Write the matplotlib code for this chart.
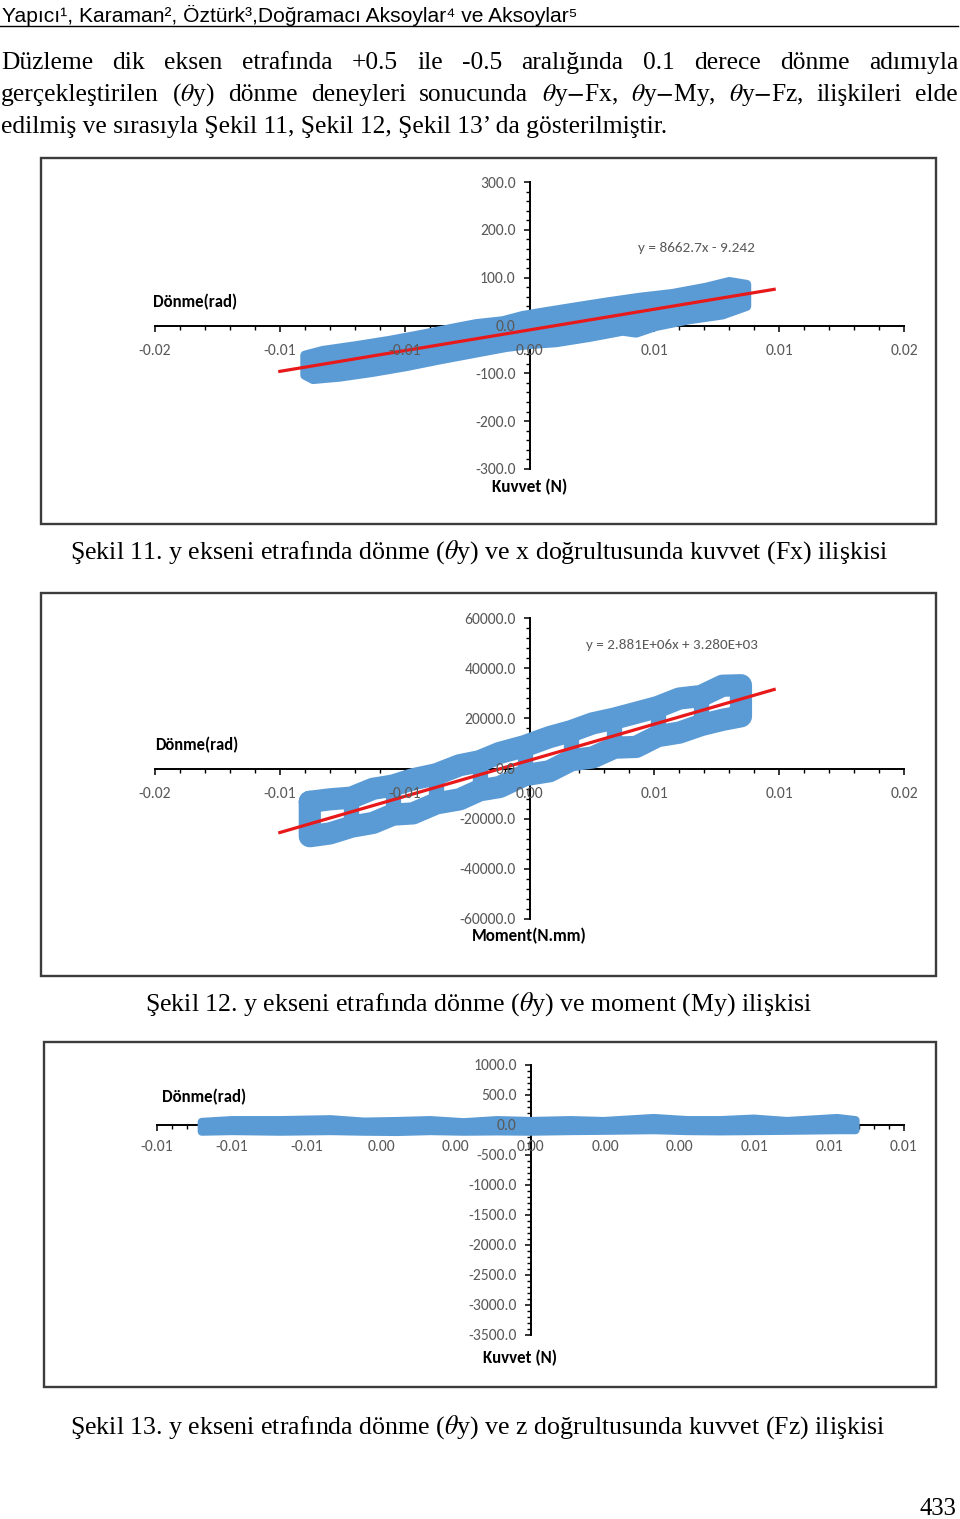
import matplotlib
matplotlib.use('Agg')
import matplotlib.pyplot as plt
from matplotlib import font_manager
from matplotlib.patches import Rectangle
from matplotlib.ticker import MultipleLocator

# ------------------------------------------------------------------ data
# Şekil 11 : rotation (rad) vs force Fx (N)
c1_xticks = [-0.015, -0.01, -0.005, 0.0, 0.005, 0.01, 0.015]
c1_xlabels = ['-0.02', '-0.01', '-0.01', '0.00', '0.01', '0.01', '0.02']
c1_yticks = [-300, -200, -100, 0, 100, 200, 300]
c1_ylabels = ['-300.0', '-200.0', '-100.0', '0.0', '100.0', '200.0', '300.0']
c1_upper_x = [-0.0090, -0.00827, -0.00693, -0.0056, -0.00427, -0.00293, -0.00213, -0.00107,
              -0.00027, 0.00053, 0.00173, 0.00307, 0.0044, 0.00573, 0.00707, 0.0080, 0.0087]
c1_upper_y = [-62, -52, -42, -31, -18, -4, 4, 10, 21, 28, 38, 49, 59, 67, 80, 92, 86]
c1_lower_x = [-0.0090, -0.00867, -0.0076, -0.00627, -0.00493, -0.0036, -0.00227, -0.00093,
              0.0, 0.00107, 0.0024, 0.00373, 0.00427, 0.00507, 0.0064, 0.00773, 0.0087]
c1_lower_y = [-104, -113, -108, -98, -86, -72, -59, -46, -40, -36, -25, -12, -16, -2, 12, 22, 40]
c1_slope, c1_icpt = 8662.7, -9.242
c1_trend_x = [-0.0100, 0.0098]
c1_eq = 'y = 8662.7x - 9.242'

# Şekil 12 : rotation (rad) vs moment My (N.mm)  (upper / lower branch of the loop)
c2_xticks = c1_xticks
c2_xlabels = c1_xlabels
c2_yticks = [-60000, -40000, -20000, 0, 20000, 40000, 60000]
c2_ylabels = ['-60000.0', '-40000.0', '-20000.0', '0.0', '20000.0', '40000.0', '60000.0']
c2_x = [-0.0088, -0.0080, -0.00713, -0.00627, -0.00547, -0.00467, -0.00373, -0.0028, -0.0020,
        -0.0012, -0.0002, 0.0008, 0.00167, 0.00253, 0.0034, 0.00427, 0.00513, 0.0060, 0.00687,
        0.00773, 0.00847]
c2_upper = [-13300, -12300, -11600, -8100, -6800, -4300, -2300, 1300, 2900, 6200, 8900, 12500,
            14900, 18000, 19900, 22200, 24500, 27900, 28900, 33000, 33200]
c2_lower = [-27000, -25900, -23200, -21700, -18400, -17900, -13900, -12300, -8700, -7400, -2700,
            -1100, 3300, 4400, 8300, 8600, 12900, 14300, 17300, 19400, 20800]
c2_bridge_idx = [2, 4, 6, 8, 10, 12, 14, 16, 18]   # points where both branches touch
c2_slope, c2_icpt = 2.881e6, 3.280e3
c2_trend_x = [-0.0100, 0.0098]
c2_eq = 'y = 2.881E+06x + 3.280E+03'

# Şekil 13 : rotation (rad) vs force Fz (N)
c3_xticks = [-0.01, -0.008, -0.006, -0.004, -0.002, 0.0, 0.002, 0.004, 0.006, 0.008, 0.01]
c3_xlabels = ['-0.01', '-0.01', '-0.01', '0.00', '0.00', '0.00', '0.00', '0.00', '0.01', '0.01', '0.01']
c3_yticks = [-3500, -3000, -2500, -2000, -1500, -1000, -500, 0, 500, 1000]
c3_ylabels = ['-3500.0', '-3000.0', '-2500.0', '-2000.0', '-1500.0', '-1000.0', '-500.0', '0.0',
              '500.0', '1000.0']
c3_x = [-0.0088, -0.0080, -0.0067, -0.00535, -0.00446, -0.00357, -0.00268, -0.00179, -0.00089,
        0.0, 0.00107, 0.00196, 0.0033, 0.0042, 0.00509, 0.00598, 0.00687, 0.00821, 0.0087]
c3_upper = [50, 80, 80, 95, 55, 65, 80, 45, 80, 65, 80, 65, 115, 80, 80, 105, 65, 115, 80]
c3_lower = [-110, -100, -110, -100, -110, -115, -100, -110, -105, -110, -100, -95, -85, -100,
            -105, -100, -95, -85, -85]

# ------------------------------------------------------------------ setup
W, H = 960, 1519
fig = plt.figure(figsize=(W / 100, H / 100), dpi=100)
fig.patch.set_facecolor('white')
renderer = fig.canvas.get_renderer()

names = {f.name for f in font_manager.fontManager.ttflist}


def pick(*cands):
    for n in cands:
        if n in names:
            return n
    return 'DejaVu Sans'


CHART_FONT = pick('Carlito', 'Liberation Sans Narrow', 'Roboto', 'Open Sans')
SERIF = pick('Liberation Serif', 'DejaVu Serif')
HEAD = pick('Liberation Sans Narrow', 'Liberation Sans', 'Roboto')

BLUE = '#5B9BD5'
RED = '#E8191A'
GRAY = '#595959'


def fx(x):
    return x / W


def fy(y):
    return 1 - y / H


def fit(s, x0, x1, y, va='baseline', **kw):
    t = fig.text(fx(x0), fy(y), s, ha='left', va=va, **kw)
    w = t.get_window_extent(renderer).width
    t.set_fontsize(t.get_fontsize() * (x1 - x0) / w)
    return t


def justify(words, x0, x1, y, size, **kw):
    ts = [fig.text(0, fy(y), w, ha='left', va='baseline', fontsize=size, **kw) for w in words]
    ws = [t.get_window_extent(renderer).width for t in ts]
    gap = (x1 - x0 - sum(ws)) / (len(ws) - 1)
    x = x0
    for t, w in zip(ts, ws):
        t.set_x(fx(x))
        x += w + gap


def box(l, r, t, b):
    fig.patches.append(Rectangle((fx(l), fy(b)), (r - l) / W, (b - t) / H,
                                 transform=fig.transFigure, fill=False,
                                 ec='#3c3c3c', lw=1.7, zorder=0))


tmp = fig.text(0, 0, '300.0', fontsize=10, family=CHART_FONT)
TICK_FS = 10 * 36 / tmp.get_window_extent(renderer).width
tmp.remove()

TICK_LEN = 4.0


def make_axes(l, r, t, b, xlim, ylim, xticks, xlabels, yticks, ylabels, xminor, yminor, xpad):
    rect = [fx(l), fy(b), (r - l) / W, (b - t) / H]
    # base layer: axis lines and tick marks (drawn below the data)
    ax = fig.add_axes(rect, zorder=1)
    # label layer: tick labels (drawn above the data)
    axl = fig.add_axes(rect, zorder=3)
    for a in (ax, axl):
        a.patch.set_visible(False)
        a.set_xlim(*xlim)
        a.set_ylim(*ylim)
        for s in ('top', 'right'):
            a.spines[s].set_visible(False)
        for s in ('left', 'bottom'):
            a.spines[s].set_position(('data', 0))
        a.set_xticks(xticks)
        a.set_yticks(yticks)
    for s in ('left', 'bottom'):
        ax.spines[s].set_linewidth(1.4)
        ax.spines[s].set_color('black')
        ax.spines[s].set_zorder(1)
        axl.spines[s].set_visible(False)
    ax.set_axisbelow(True)
    ax.xaxis.set_minor_locator(MultipleLocator(xminor))
    ax.yaxis.set_minor_locator(MultipleLocator(yminor))
    ax.tick_params(which='major', direction='out', length=TICK_LEN, width=1.1, color='black',
                   labelbottom=False, labelleft=False)
    ax.tick_params(which='minor', direction='out', length=2.6, width=1.0, color='black')
    axl.set_xticklabels(xlabels)
    axl.set_yticklabels(ylabels)
    axl.tick_params(which='both', length=0, labelcolor=GRAY, labelsize=TICK_FS,
                    labelfontfamily=CHART_FONT)
    axl.tick_params(axis='x', pad=TICK_LEN + xpad)
    axl.tick_params(axis='y', pad=TICK_LEN + 6)
    return ax


# ------------------------------------------------------------------ page text
fit('Yapıcı¹, Karaman², Öztürk³,Doğramacı Aksoylar⁴ ve Aksoylar⁵', 2, 580, 22,
    family=[HEAD, 'DejaVu Sans'], fontsize=14)
fig.add_artist(plt.Line2D([fx(0), fx(958)], [fy(25.5), fy(25.5)], transform=fig.transFigure,
                          color='black', lw=1.0))

t3 = fit('edilmiş ve sırasıyla Şekil 11, Şekil 12, Şekil 13’ da gösterilmiştir.', 1, 665, 133,
         family=SERIF, fontsize=16)
BODY_FS = t3.get_fontsize()
justify(['Düzleme', 'dik', 'eksen', 'etrafında', '+0.5', 'ile', '-0.5', 'aralığında', '0.1',
         'derece', 'dönme', 'adımıyla'], 1, 958, 69, BODY_FS, family=SERIF)
justify(['gerçekleştirilen', r'($\theta$y)', 'dönme', 'deneyleri', 'sonucunda',
         r'$\theta$y$-$Fx,', r'$\theta$y$-$My,', r'$\theta$y$-$Fz,', 'ilişkileri', 'elde'],
        1, 958, 101, BODY_FS, family=SERIF, math_fontfamily='stix')

fit(r'Şekil 11. y ekseni etrafında dönme ($\theta$y) ve x doğrultusunda kuvvet (Fx) ilişkisi',
    70, 888, 559, family=SERIF, math_fontfamily='stix', fontsize=16)
fit(r'Şekil 12. y ekseni etrafında dönme ($\theta$y) ve moment (My) ilişkisi',
    145, 813, 1011, family=SERIF, math_fontfamily='stix', fontsize=16)
fit(r'Şekil 13. y ekseni etrafında dönme ($\theta$y) ve z doğrultusunda kuvvet (Fz) ilişkisi',
    70, 888, 1434, family=SERIF, math_fontfamily='stix', fontsize=16)
fit('433', 920, 957, 1515, family=SERIF, fontsize=16)

# ------------------------------------------------------------------ chart 1
box(41, 936, 158, 524)
ax1 = make_axes(155, 904, 182, 469, (-0.015, 0.015), (-300, 300),
                c1_xticks, c1_xlabels, c1_yticks, c1_ylabels, 0.001, 20, 9.5)
ax1.fill(c1_upper_x + c1_lower_x[::-1], c1_upper_y + c1_lower_y[::-1],
         fc=BLUE, ec=BLUE, lw=6.5, joinstyle='round', zorder=3)
ax1.plot(c1_trend_x, [c1_slope * x + c1_icpt for x in c1_trend_x], color=RED, lw=2.3, zorder=4)
fit(c1_eq, 638, 755, 248, va='center', family=CHART_FONT, color=GRAY, fontsize=11)
fit('Dönme(rad)', 153, 237, 302, va='center', family=CHART_FONT, weight='bold', fontsize=12)
fit('Kuvvet (N)', 492, 567, 487, va='center', family=CHART_FONT, weight='bold', fontsize=12)

# ------------------------------------------------------------------ chart 2
box(41, 936, 593, 976)
ax2 = make_axes(155, 904, 618, 919, (-0.015, 0.015), (-60000, 60000),
                c2_xticks, c2_xlabels, c2_yticks, c2_ylabels, 0.001, 4000, 9.5)
loop_x = c2_x + c2_x[::-1] + [c2_x[0]]
loop_y = c2_upper + c2_lower[::-1] + [c2_upper[0]]
ax2.plot(loop_x, loop_y, color=BLUE, lw=16.0, solid_joinstyle='round', solid_capstyle='round',
         zorder=3)
ax2.vlines([c2_x[i] for i in c2_bridge_idx], [c2_lower[i] for i in c2_bridge_idx],
           [c2_upper[i] for i in c2_bridge_idx], color=BLUE, lw=11.0, zorder=3)
ax2.plot(c2_trend_x, [c2_slope * x + c2_icpt for x in c2_trend_x], color=RED, lw=2.3, zorder=4)
fit(c2_eq, 586, 758, 645, va='center', family=CHART_FONT, color=GRAY, fontsize=11)
fit('Dönme(rad)', 155, 238, 745, va='center', family=CHART_FONT, weight='bold', fontsize=12)
fit('Moment(N.mm)', 472, 587, 936, va='center', family=CHART_FONT, weight='bold', fontsize=12)

# ------------------------------------------------------------------ chart 3
box(44, 936, 1042, 1387)
ax3 = make_axes(157, 904, 1065, 1335, (-0.01, 0.01), (-3500, 1000),
                c3_xticks, c3_xlabels, c3_yticks, c3_ylabels, 0.0004, 100, 7.0)
ax3.fill(c3_x + c3_x[::-1], c3_upper + c3_lower[::-1],
         fc=BLUE, ec=BLUE, lw=6.0, joinstyle='round', zorder=3)
fit('Dönme(rad)', 162, 246, 1097, va='center', family=CHART_FONT, weight='bold', fontsize=12)
fit('Kuvvet (N)', 483, 557, 1358, va='center', family=CHART_FONT, weight='bold', fontsize=12)

fig.savefig('out.png', dpi=100, facecolor='white')
